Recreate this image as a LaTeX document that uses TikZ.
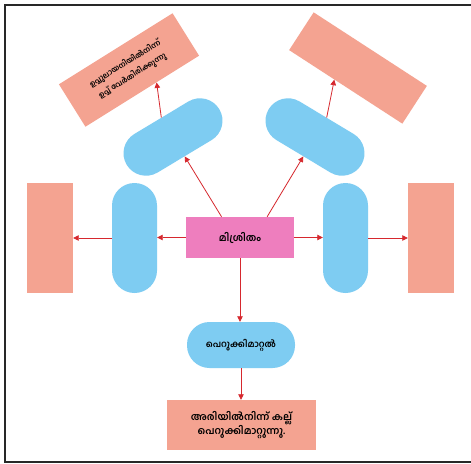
\documentclass[tikz,border=0pt]{standalone}
\usepackage{fontspec}
\newfontfamily\mal[Script=Malayalam]{Hind Kochi}
\usetikzlibrary{calc,arrows.meta}
\definecolor{ovalblue}{RGB}{126,204,242}
\definecolor{salmon}{RGB}{244,163,145}
\definecolor{mixpink}{RGB}{238,126,190}
\definecolor{arrowred}{RGB}{214,40,46}
\definecolor{framegray}{RGB}{40,40,40}
\tikzset{
  oval/.style={draw=none, fill=ovalblue, rectangle, rounded corners=22.5pt, minimum width=108pt, minimum height=45pt, inner sep=0pt, font=\mal\bfseries\fontsize{9}{11}\selectfont},
  sbox/.style={draw=none, fill=salmon, rectangle, inner sep=0pt, font=\mal\bfseries\fontsize{10}{14}\selectfont, align=center},
  mixbox/.style={draw=none, fill=mixpink, rectangle, minimum width=108pt, minimum height=41pt, inner sep=0pt, font=\mal\bfseries\fontsize{10}{12}\selectfont},
  arr/.style={draw=arrowred, line width=0.8pt, -{Triangle[length=5.5pt,width=5.5pt]}},
}
\begin{document}
\begin{tikzpicture}[x=1pt,y=-1pt]
\useasboundingbox (0,0) rectangle (471,463);
\fill[white] (0,0) rectangle (471,463);
\draw[framegray, line width=1.3pt] (472,5) -- (5,5) -- (5,462) -- (472,462);

% centre
\node[mixbox] (mix) at (240,237.5) {മിശ്രിതം};

% side ovals and boxes
\node[oval, minimum width=110pt, minimum height=45pt, rotate=90] (lo) at (134.5,238) {};
\node[oval, minimum width=110pt, minimum height=45pt, rotate=90] (ro) at (345.5,238) {};
\node[sbox, minimum width=46pt, minimum height=110pt] (lb) at (50,238) {};
\node[sbox, minimum width=46pt, minimum height=110pt] (rb) at (431,238) {};

% tilted ovals
\node[oval, rotate=31] (ulo) at (173,137) {};
\node[oval, rotate=-31] (uro) at (315,137) {};

% tilted boxes
\node[sbox, minimum width=134pt, minimum height=50pt, rotate=32, font=\mal\bfseries\fontsize{7.5}{14}\selectfont] (ulb) at (129,70) {ഉപ്പുലായനിയിൽനിന്ന്\\ഉപ്പ് വേർതിരിക്കുന്നു};
\node[sbox, minimum width=135pt, minimum height=45pt, rotate=-33] (urb) at (358,68) {};

% bottom
\node[oval, minimum width=108pt, minimum height=46pt] (bo) at (241,345) {പെറുക്കിമാറ്റൽ};
\node[sbox, minimum width=149pt, minimum height=50pt] (bb) at (241.5,425) {അരിയിൽനിന്ന് കല്ല്\\പെറുക്കിമാറ്റുന്നു.};

% connectors
\draw[arr] (mix.west) -- (mix.west -| lo.south);
\draw[arr] (lo.north) -- (lo.north -| lb.east);
\draw[arr] (mix.east) -- (mix.east -| ro.north);
\draw[arr] (ro.south) -- (ro.south -| rb.west);
\draw[arr] ($(mix.north west)!0.33!(mix.north east)$) -- (ulo.south);
\draw[arr] ($(mix.north west)!0.75!(mix.north east)$) -- (uro.south);
\draw[arr] (ulo.north) -- ($(ulb.south)!0.25!(ulb.south east)$);
\draw[arr] (uro.north) -- ($(urb.south)!0.2!(urb.south west)$);
\draw[arr] (mix.south) -- (mix.south |- bo.north);
\draw[arr] (bo.south) -- (bo.south |- bb.north);
\end{tikzpicture}
\end{document}
